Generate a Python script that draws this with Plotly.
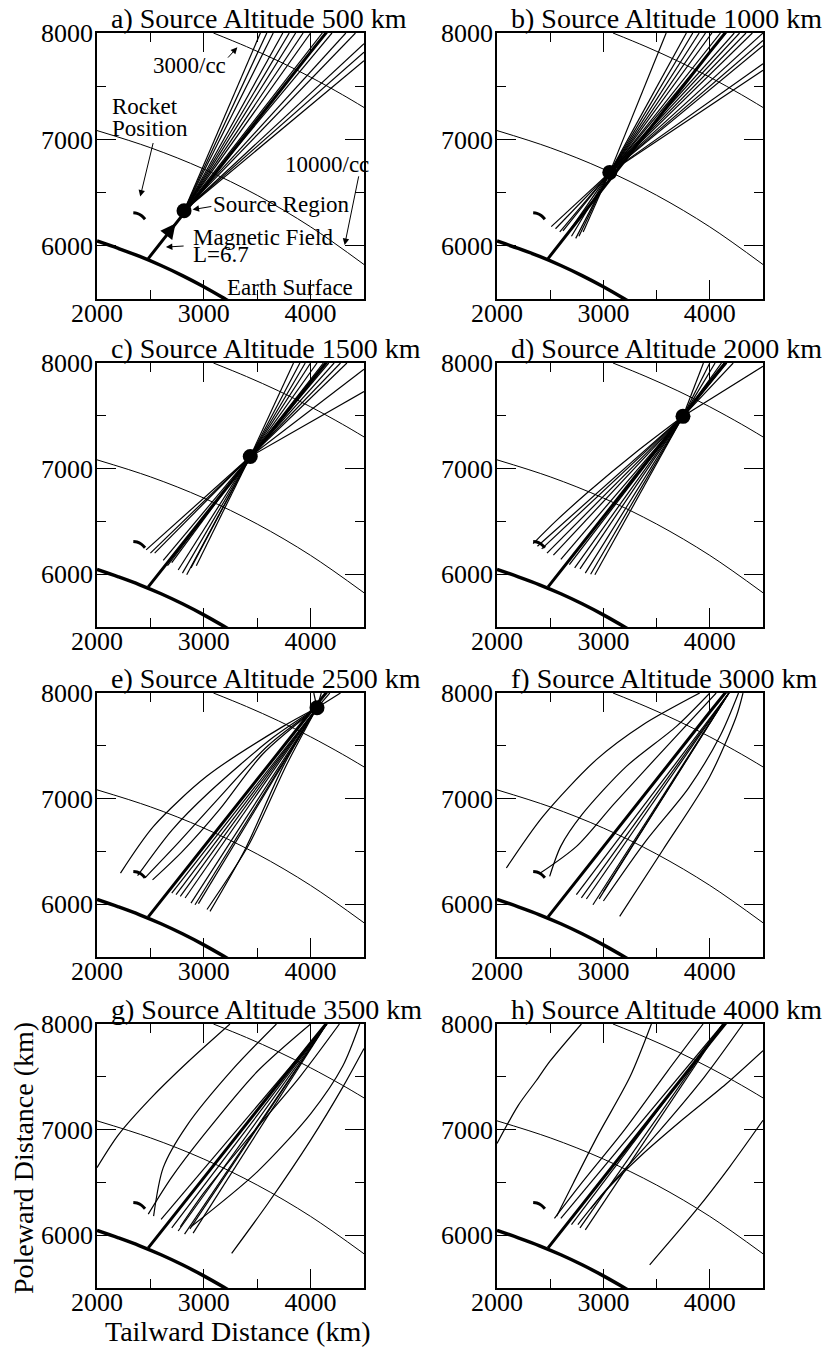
import plotly.graph_objects as go

FONT = "Liberation Serif, Times New Roman, serif"

# ---------------- data ----------------
X_RANGE = [2000, 4500]
Y_RANGE = [5500, 8000]
X_TICKS = [2000, 3000, 4000]
Y_TICKS = [6000, 7000, 8000]
X_MINOR = [2500, 3500]
Y_MINOR = [6500, 7500]

TITLES = ["a) Source Altitude 500 km", "b) Source Altitude 1000 km",
          "c) Source Altitude 1500 km", "d) Source Altitude 2000 km",
          "e) Source Altitude 2500 km", "f) Source Altitude 3000 km",
          "g) Source Altitude 3500 km", "h) Source Altitude 4000 km"]

EARTH_X = [2000, 2200, 2400, 2600, 2800, 3000, 3200, 3300]
EARTH_Y = [6045, 5975, 5900, 5815, 5720, 5615, 5500, 5440]

FIELD_X = [2480, 2800, 3200, 3600, 4000, 4160]
FIELD_Y = [5880, 6290, 6800, 7310, 7820, 8020]

DENS3000_X = [3090, 3400, 3700, 4000, 4300, 4500]
DENS3000_Y = [8000, 7872, 7736, 7585, 7419, 7300]
DENS10000_X = [2000, 2500, 3000, 3500, 4000, 4500]
DENS10000_Y = [7083, 6922, 6721, 6475, 6178, 5824]

ROCKET_X = [2340, 2375, 2415, 2450]
ROCKET_Y = [6310, 6305, 6285, 6250]

SOURCE_X = [2815, 3060, 3435, 3748, 4060, None, None, None]
SOURCE_Y = [6330, 6690, 7115, 7495, 7860, None, None, None]

# straight rays from the source point: end points
RAY_END_A = [(3530, 8000), (3590, 8000), (3650, 8000), (3740, 8000), (3800, 8000),
             (3860, 8000), (3930, 8000), (4000, 8000), (4110, 8000), (4200, 8000),
             (4330, 8000), (4420, 8000), (4500, 7900), (4500, 7820), (4500, 7740)]
RAY_END_B = [(3590, 8000), (3780, 8000), (3840, 8000), (3900, 8000), (3960, 8000),
             (4020, 8000), (4100, 8000), (4150, 8000), (4230, 8000), (4280, 8000),
             (4340, 8000), (4400, 8000), (4500, 8000), (4500, 7930), (4500, 7880),
             (4500, 7710), (4500, 7650),
             (2510, 6180), (2550, 6160), (2590, 6130), (2620, 6140), (2660, 6110),
             (2700, 6090), (2740, 6070), (2770, 6090), (2810, 6130)]
RAY_END_C = [(3840, 8000), (3900, 8000), (3950, 8000), (4000, 8000), (4060, 8000),
             (4120, 8000), (4170, 8000), (4220, 8000), (4280, 8000), (4340, 8000),
             (4500, 7940), (4500, 7730),
             (2460, 6230), (2500, 6200), (2540, 6200), (2620, 6130), (2660, 6080),
             (2700, 6110), (2760, 6040), (2800, 6010), (2840, 5995), (2880, 6060),
             (2930, 6080)]
RAY_END_D = [(3940, 8000), (4000, 8000), (4050, 8000), (4110, 8000), (4160, 8000),
             (4220, 8000), (4500, 7970),
             (2380, 6265), (2420, 6240), (2470, 6200), (2530, 6180), (2600, 6140),
             (2680, 6090), (2730, 6060), (2780, 6050), (2830, 6010), (2880, 6000),
             (2920, 5995)]
RAY_END_E = [(4030, 8000), (4100, 8000), (4180, 8000), (4280, 8000),
             (2700, 6106), (2740, 6090), (2780, 6075), (2825, 6059), (2880, 6010),
             (2918, 5995), (2950, 6005)]
RAY_END_F = []
RAY_END_G = []
RAY_END_H = []

# rays entering from the top edge (start point, list of end points)
TOP_BUNDLE_F = ((4180, 8000), [(2746, 6090), (2793, 6059), (2840, 6049), (2902, 5995),
                               (2960, 6050), (3000, 6120)])
TOP_BUNDLE_G = ((4150, 8000), [(2600, 6150), (2700, 6070), (2760, 6040), (2820, 6010),
                               (2870, 6060), (2900, 6020)])
TOP_BUNDLE_H = ((4124, 8000), [(2600, 6160), (2700, 6100), (2780, 6070), (2830, 6050)])

# curved rays (polylines)
CURVES_D = [[(3748, 7495), (3300, 7150), (2870, 6790), (2550, 6500), (2340, 6290)]]
CURVES_E = [[(4060, 7860), (3743, 7684), (3027, 7211), (2529, 6737), (2220, 6295)],
            [(4060, 7860), (3650, 7580), (3050, 7060), (2700, 6700), (2380, 6270)],
            [(4060, 7860), (3600, 7500), (3100, 6960), (2760, 6580), (2450, 6250)],
            [(4060, 7860), (3550, 7420), (3150, 6900), (2800, 6500), (2520, 6230)],
            [(4060, 7860), (3743, 7305), (3385, 6516), (3058, 5932)],
            [(4060, 7860), (3780, 7330), (3420, 6560), (3030, 5950)]]
CURVES_F = [[(3905, 8000), (3372, 7700), (2934, 7369), (2432, 6832), (2088, 6343)],
            [(4000, 8000), (3686, 7684), (3216, 7305), (2800, 6850), (2600, 6550), (2495, 6264)],
            [(4060, 8000), (3600, 7500), (3100, 6950), (2750, 6550), (2400, 6290)],
            [(4312, 8000), (4250, 7780), (4000, 7210), (3560, 6516), (3153, 5885)],
            [(4270, 8000), (4100, 7600), (3800, 7100), (3400, 6600), (3000, 6030)]]
CURVES_G = [[(3245, 8000), (2850, 7640), (2498, 7291), (2200, 6950), (2000, 6640)],
            [(3680, 8000), (3276, 7577), (2840, 7036), (2620, 6640), (2530, 6180)],
            [(4000, 8000), (3500, 7550), (3000, 6950), (2700, 6550), (2480, 6200)],
            [(4500, 7768), (4300, 7400), (4000, 6900), (3600, 6300), (3261, 5828)],
            [(4460, 8000), (4300, 7600), (4000, 7150), (3500, 6600), (2880, 6080)],
            [(4270, 8000), (3900, 7500), (3400, 6900), (3000, 6400), (2780, 6080)]]
CURVES_H = [[(2793, 8000), (2500, 7650), (2370, 7465), (2200, 7230), (2000, 6868)],
            [(3451, 8000), (3250, 7500), (2950, 6950), (2720, 6500), (2560, 6180)],
            [(3937, 8000), (3600, 7550), (3200, 7000), (2800, 6500), (2540, 6160)],
            [(4312, 8000), (3950, 7500), (3450, 6900), (3000, 6400), (2760, 6100)],
            [(4500, 7748), (4150, 7430), (3750, 7100), (3350, 6750), (3050, 6450), (2880, 6250)],
            [(4500, 7088), (4187, 6648), (3873, 6239), (3435, 5720)]]

RAY_ENDS = [RAY_END_A, RAY_END_B, RAY_END_C, RAY_END_D, RAY_END_E, RAY_END_F, RAY_END_G, RAY_END_H]
TOP_BUNDLES = [None, None, None, None, None, TOP_BUNDLE_F, TOP_BUNDLE_G, TOP_BUNDLE_H]
CURVES = [[], [], [], CURVES_D, CURVES_E, CURVES_F, CURVES_G, CURVES_H]

# ---------------- layout geometry (pixels) ----------------
W, H = 832, 1349
COL_PX = [(97, 364), (497, 763)]
ROW_PX = [(33, 299), (363, 627), (693, 957), (1024, 1288)]

fig = go.Figure()
BLACK = "black"
RAY_W = 1.2


def px_x(p):
    return p / W


def px_y(p):
    return 1 - p / H


for i in range(8):
    r, c = divmod(i, 2)
    n = i + 1
    xa = "x" if n == 1 else f"x{n}"
    ya = "y" if n == 1 else f"y{n}"
    kw = dict(xaxis=xa, yaxis=ya, mode="lines", showlegend=False, hoverinfo="skip")

    # density contours
    fig.add_trace(go.Scatter(x=DENS3000_X, y=DENS3000_Y, line=dict(color=BLACK, width=1, shape="spline"), **kw))
    fig.add_trace(go.Scatter(x=DENS10000_X, y=DENS10000_Y, line=dict(color=BLACK, width=1, shape="spline"), **kw))
    # earth surface
    fig.add_trace(go.Scatter(x=EARTH_X, y=EARTH_Y, line=dict(color=BLACK, width=3.5, shape="spline"), **kw))
    # rays
    sx, sy = SOURCE_X[i], SOURCE_Y[i]
    for (ex, ey) in RAY_ENDS[i]:
        fig.add_trace(go.Scatter(x=[sx, ex], y=[sy, ey], line=dict(color=BLACK, width=RAY_W), **kw))
    if TOP_BUNDLES[i] is not None:
        (tx, ty), ends = TOP_BUNDLES[i]
        for (ex, ey) in ends:
            fig.add_trace(go.Scatter(x=[tx, ex], y=[ty, ey], line=dict(color=BLACK, width=RAY_W), **kw))
    for cv in CURVES[i]:
        fig.add_trace(go.Scatter(x=[p[0] for p in cv], y=[p[1] for p in cv],
                                 line=dict(color=BLACK, width=RAY_W, shape="spline", smoothing=0.8), **kw))
    # magnetic field line
    fig.add_trace(go.Scatter(x=FIELD_X, y=FIELD_Y, line=dict(color=BLACK, width=3), **kw))
    # rocket
    fig.add_trace(go.Scatter(x=ROCKET_X, y=ROCKET_Y, line=dict(color=BLACK, width=3, shape="spline"), **kw))
    # source
    if sx is not None:
        fig.add_trace(go.Scatter(x=[sx], y=[sy], mode="markers", xaxis=xa, yaxis=ya,
                                 marker=dict(color=BLACK, size=15), showlegend=False, hoverinfo="skip"))

    x0, x1 = COL_PX[c]
    y0, y1 = ROW_PX[r]
    axis_common = dict(showgrid=False, zeroline=False, showline=True, linecolor=BLACK, linewidth=1.5,
                       mirror="allticks", ticks="inside", ticklen=19, tickwidth=1.2, tickcolor=BLACK,
                       automargin=False,
                       tickfont=dict(family=FONT, size=26, color=BLACK), fixedrange=True)
    fig.layout[("xaxis" if n == 1 else f"xaxis{n}")] = dict(
        domain=[px_x(x0), px_x(x1)], range=X_RANGE, anchor=ya, tickvals=X_TICKS,
        ticklabelstandoff=-10,
        minor=dict(tickvals=X_MINOR, ticks="inside", ticklen=9, tickwidth=1.2, tickcolor=BLACK),
        **axis_common)
    fig.layout[("yaxis" if n == 1 else f"yaxis{n}")] = dict(
        domain=[px_y(y1), px_y(y0)], range=Y_RANGE, anchor=xa, tickvals=Y_TICKS,
        ticklabelstandoff=-3,
        minor=dict(tickvals=Y_MINOR, ticks="inside", ticklen=9, tickwidth=1.2, tickcolor=BLACK),
        **axis_common)

    fig.add_annotation(text=TITLES[i], xref="paper", yref="paper", x=px_x(x0 + 12), y=px_y(y0 + 3),
                       xanchor="left", yanchor="bottom", showarrow=False,
                       font=dict(family=FONT, size=28, color=BLACK))

# ---------------- panel a labels ----------------
ANN_FONT = dict(family=FONT, size=23, color=BLACK)
labels_a = [("3000/cc", 2862, 7696, "center"), ("Rocket", 2125, 7310, "left"),
            ("Position", 2125, 7106, "left"), ("10000/cc", 3743, 6761, "left"),
            ("Source Region", 3065, 6384, "left"), ("Magnetic Field", 2878, 6080, "left"),
            ("L=6.7", 2878, 5914, "left"), ("Earth Surface", 3199, 5610, "left")]
for t, x, y, anc in labels_a:
    fig.add_annotation(text=t, x=x, y=y, xref="x", yref="y", xanchor=anc, yanchor="middle",
                       showarrow=False, font=ANN_FONT)

arrows_a = [((3214, 7755), (3314, 7865)), ((2529, 6980), (2405, 6463)),
            ((4453, 6667), (4319, 6008)), ((3085, 6372), (2895, 6340)),
            ((2825, 5999), (2645, 5988))]
for (tx, ty), (hx, hy) in arrows_a:
    fig.add_annotation(text="", x=hx, y=hy, ax=tx, ay=ty, xref="x", yref="y", axref="x", ayref="y",
                       showarrow=True, arrowhead=2, arrowsize=1.3, arrowwidth=1, arrowcolor=BLACK)
# direction arrow along field line
fig.add_annotation(text="", x=2735, y=6210, ax=2650, ay=6100, xref="x", yref="y", axref="x", ayref="y",
                   showarrow=True, arrowhead=2, arrowsize=1, arrowwidth=3, arrowcolor=BLACK)

# axis titles (panel g)
fig.add_annotation(text="Tailward Distance (km)", xref="paper", yref="paper", x=px_x(238), y=px_y(1331),
                   xanchor="center", yanchor="middle", showarrow=False, font=dict(family=FONT, size=28, color=BLACK))
fig.add_annotation(text="Poleward Distance (km)", xref="paper", yref="paper", x=px_x(23), y=px_y(1158),
                   xanchor="center", yanchor="middle", textangle=-90, showarrow=False,
                   font=dict(family=FONT, size=28, color=BLACK))

fig.update_layout(width=W, height=H, margin=dict(l=0, r=0, t=0, b=0, autoexpand=False),
                  paper_bgcolor="white", plot_bgcolor="white", showlegend=False)

fig.write_html("out.html", config={"displayModeBar": False},
               post_script="document.body.style.margin='0';")
